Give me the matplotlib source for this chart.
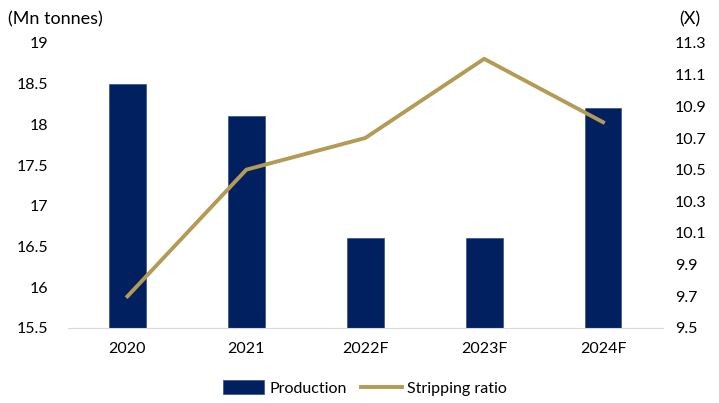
import matplotlib
matplotlib.use("Agg")
import matplotlib.pyplot as plt
import numpy as np

categories = ["2020", "2021", "2022F", "2023F", "2024F"]
production = [18.5, 18.1, 16.6, 16.6, 18.2]
stripping_ratio = [9.7, 10.5, 10.7, 11.2, 10.8]
left_ticks = [15.5, 16, 16.5, 17, 17.5, 18, 18.5, 19]
right_ticks = [9.5, 9.7, 9.9, 10.1, 10.3, 10.5, 10.7, 10.9, 11.1, 11.3]

plt.rcParams['font.family'] = ['Lato', 'DejaVu Sans']
FS = 11.5
bar_color = "#002060"
line_color = "#B39B55"

fig = plt.figure(figsize=(7.19, 4.03), dpi=100)
ax = fig.add_axes([68/719, 1-328/403, (662.5-68)/719, (328-43)/403])
x = np.arange(len(categories))
bars = ax.bar(x, production, width=0.31, color=bar_color, edgecolor="#3a4f86", linewidth=0.5, label="Production", zorder=2)
ax.set_ylim(15.5, 19)
ax.set_xlim(-0.5, len(categories)-0.5)
ax.set_yticks(left_ticks)
ax.set_yticklabels([f"{t:g}" for t in left_ticks], fontsize=FS)
ax.set_xticks(x)
ax.set_xticklabels(categories, fontsize=FS)
for s in ["top", "right", "left"]:
    ax.spines[s].set_visible(False)
ax.spines["bottom"].set_color("#d9d9d9")
ax.tick_params(axis="y", length=0, pad=14)
ax.tick_params(axis="x", length=0, pad=10)

ax2 = ax.twinx()
line, = ax2.plot(x, stripping_ratio, color=line_color, linewidth=2.8, label="Stripping ratio", zorder=3)
ax2.set_ylim(9.5, 11.3)
ax2.set_yticks(right_ticks)
ax2.set_yticklabels([f"{t:.1f}" for t in right_ticks], fontsize=FS)
for s in ["top", "right", "left", "bottom"]:
    ax2.spines[s].set_visible(False)
ax2.tick_params(axis="y", length=0, pad=9)

fig.text(8/719, 1-19/403, "(Mn tonnes)", fontsize=13, va="center", ha="left")
fig.text(700/719, 1-19/403, "(X)", fontsize=13, va="center", ha="right")

fig.legend([bars, line], ["Production", "Stripping ratio"], loc="center",
           bbox_to_anchor=(365/719, 1-388/403), ncol=2, frameon=False, fontsize=FS,
           handlelength=2.6, handleheight=0.9, columnspacing=0.9, handletextpad=0.3)

fig.savefig("out.png", dpi=100)
